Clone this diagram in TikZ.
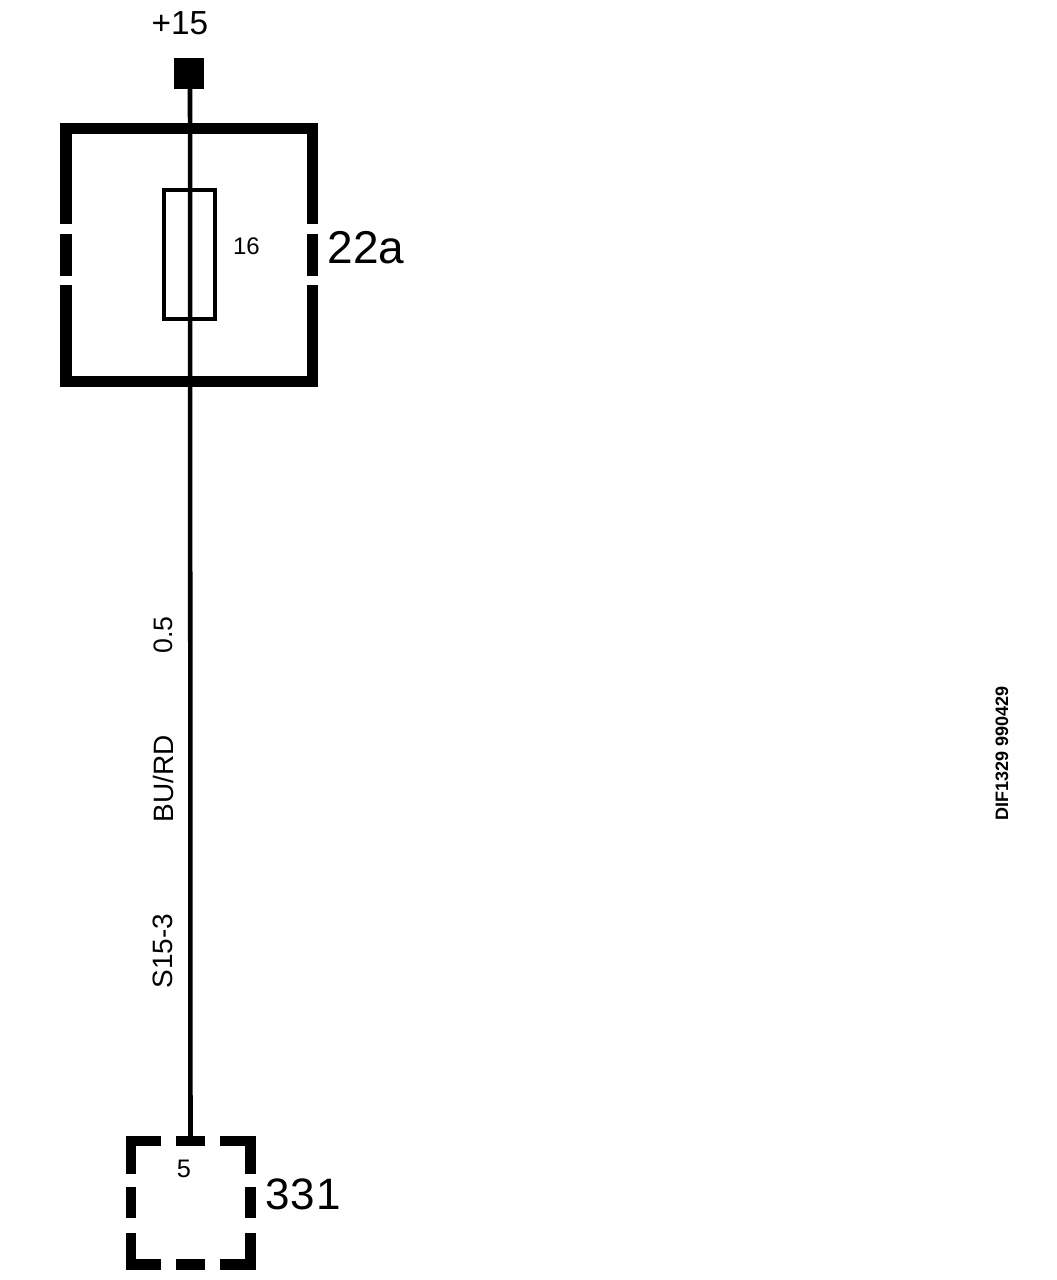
\documentclass[tikz,border=0pt]{standalone}
\usepackage{fontspec}
\setmainfont{Liberation Sans}
\newcommand{\pxfont}[1]{\fontsize{#1}{#1}\selectfont}
\begin{document}
\begin{tikzpicture}[x=0.75pt,y=-0.75pt,
  bigbox/.style={line width=8.6pt,line cap=butt,miter limit=10},
  smallbox/.style={line width=8.2pt,line cap=butt,miter limit=10},
  wire/.style={line width=3.4pt},
  txt/.style={inner sep=0pt,outer sep=0pt,text=black},
  rottxt/.style={txt,rotate=90,anchor=center}]
\useasboundingbox (0,0) rectangle (1056,1280);
\fill[white] (0,0) rectangle (1056,1280);
% terminal
\node[draw=none,fill=black,minimum width=22.5pt,minimum height=23.2pt,inner sep=0pt] (term) at (189,73.5) {};
\node[txt] (plus) at (180,23) {\pxfont{25}+15};
% relay box 22a
\draw[bigbox] (66,224) -- (66,128.5) -- (312.5,128.5) -- (312.5,224);
\draw[bigbox] (66,234) -- (66,276);
\draw[bigbox] (312.5,234) -- (312.5,276);
\draw[bigbox] (66,285) -- (66,381.5) -- (312.5,381.5) -- (312.5,285);
% fuse
\node[draw=black,line width=3pt,minimum width=38.2pt,minimum height=97pt,inner sep=0pt] (fuse) at (189.5,254.5) {};
\node[txt] (amp) at (246.5,246) {\pxfont{18}16};
\node[txt] (boxa) at (366,248) {\pxfont{34.5}22a};
% connector box 331
\draw[smallbox] (161,1141) -- (131,1141) -- (131,1174);
\draw[smallbox] (220,1141) -- (250.5,1141) -- (250.5,1174);
\draw[smallbox] (131,1187) -- (131,1218);
\draw[smallbox] (250.5,1187) -- (250.5,1218);
\draw[smallbox] (131,1233) -- (131,1264.5) -- (161,1264.5);
\draw[smallbox] (250.5,1233) -- (250.5,1264.5) -- (220,1264.5);
\draw[smallbox] (176,1141) -- (205,1141);
\draw[smallbox] (176,1264.5) -- (205,1264.5);
\coordinate (pin) at (190.5,1137);
\node[txt] (pinno) at (184,1169) {\pxfont{19}5};
\node[txt] (boxb) at (303,1194) {\pxfont{33}3\kern0.6pt3\kern0.6pt1};
% wire
\draw[wire] (term.south -| 190,89) -- (pin);
% wire labels
\node[rottxt] (size) at (163,635) {\pxfont{20}0.5};
\node[rottxt] (colour) at (163,779) {\pxfont{21}BU/RD};
\node[rottxt] (code) at (163,951) {\pxfont{21}S15-3};
\node[rottxt] (ref) at (1002,753.5) {\pxfont{13.5}\bfseries DIF1329 990429};
\end{tikzpicture}
\end{document}
